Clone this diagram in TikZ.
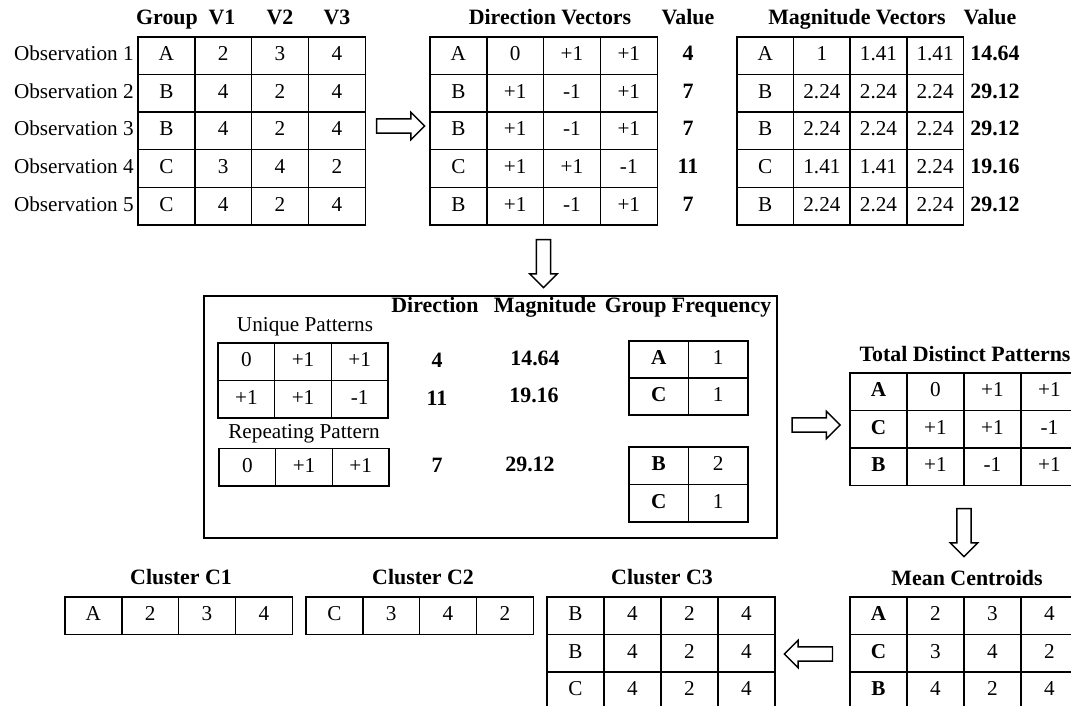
\documentclass[tikz,border=0pt]{standalone}
\usepackage{fontspec}
\setmainfont{Liberation Serif}
\usetikzlibrary{shapes.arrows, positioning}

\tikzset{
  every node/.style={text height=7.3pt, text depth=2.3pt},
  cell/.style={draw, line width=0.7pt, minimum width=28.4pt, minimum height=18.8pt, inner sep=0pt},
  hdr/.style={font=\fontsize{10.95}{13}\selectfont\bfseries, inner sep=0pt},
  txt/.style={inner sep=0pt},
  bigarrow/.style={single arrow, draw, line width=0.7pt, minimum height=24pt,
    text height=0pt, text depth=0pt, inner sep=3.2pt,
    single arrow head extend=3.3pt, single arrow tip angle=90},
}

\begin{document}
\begin{tikzpicture}[x=0.5pt, y=-0.5pt, font=\fontsize{10.6}{12}\selectfont]
    \useasboundingbox (0,0) rectangle (1071,706);

    % input data
    \node[hdr] (h-group) at (167,20) {Group};
    \node[hdr] (h-v1) at (222,20) {V1};
    \node[hdr] (h-v2) at (280,20) {V2};
    \node[hdr] (h-v3) at (337,20) {V3};
    \foreach \r in {1,...,5}
        \node[txt, anchor=east] (obs-\r) at (134,{37+37.6*(\r-0.5)}) {Observation \r};
    \foreach \row [count=\r] in {{A,2,3,4},{B,4,2,4},{B,4,2,4},{C,3,4,2},{C,4,2,4}}
        \foreach \v [count=\c] in \row
            \node[cell] (in-\r-\c) at ({138+56.8*(\c-0.5)},{37+37.6*(\r-0.5)}) {\v};

    % direction vectors
    \node[hdr] (h-dir) at (550,20) {Direction Vectors};
    \node[hdr] (h-dval) at (688,20) {Value};
    \foreach \row [count=\r] in {{A,0,+1,+1},{B,+1,-1,+1},{B,+1,-1,+1},{C,+1,+1,-1},{B,+1,-1,+1}}
        \foreach \v [count=\c] in \row
            \node[cell] (dir-\r-\c) at ({430+56.8*(\c-0.5)},{37+37.6*(\r-0.5)}) {\v};
    \foreach \v [count=\r] in {4,7,7,11,7}
        \node[hdr] (dval-\r) at (688,{37+37.6*(\r-0.5)}) {\v};

    % magnitude vectors
    \node[hdr] (h-mag) at (857,20) {Magnitude Vectors};
    \node[hdr] (h-mval) at (990,20) {Value};
    \foreach \row [count=\r] in {{A,1,1.41,1.41},{B,2.24,2.24,2.24},{B,2.24,2.24,2.24},{C,1.41,1.41,2.24},{B,2.24,2.24,2.24}}
        \foreach \v [count=\c] in \row
            \node[cell] (mag-\r-\c) at ({737+56.6*(\c-0.5)},{37+37.6*(\r-0.5)}) {\v};
    \foreach \v [count=\r] in {14.64,29.12,29.12,19.16,29.12}
        \node[hdr] (mval-\r) at (995,{37+37.6*(\r-0.5)}) {\v};

    % pattern panel
    \node[draw, line width=0.7pt, minimum width=286.5pt, minimum height=121pt, inner sep=0pt] (panel) at (490.5,417) {};
    \node[hdr] (h-pdir) at (435,307) {Direction};
    \node[hdr] (h-pmag) at (545,307) {Magnitude};
    \node[hdr] (h-pfreq) at (688,307) {Group Frequency};
    \node[txt] (uniq) at (305,326) {Unique Patterns};
    \node[txt] (rep) at (304,433) {Repeating Pattern};
    \foreach \row [count=\r] in {{0,+1,+1},{+1,+1,-1}}
        \foreach \v [count=\c] in \row
            \node[cell] (uq-\r-\c) at ({218+56.7*(\c-0.5)},{343+37.5*(\r-0.5)}) {\v};
    \foreach \v [count=\c] in {0,+1,+1}
        \node[cell] (rp-\c) at ({219+56.7*(\c-0.5)},467) {\v};
    \node[hdr] (pdir-1) at (437,362) {4};
    \node[hdr] (pdir-2) at (437,400) {11};
    \node[hdr] (pdir-3) at (437,467) {7};
    \node[hdr] (pmag-1) at (535,360) {14.64};
    \node[hdr] (pmag-2) at (534,397) {19.16};
    \node[hdr] (pmag-3) at (530,466) {29.12};
    \foreach \row [count=\r] in {{\textbf{A},1},{\textbf{C},1}}
        \foreach \v [count=\c] in \row
            \node[cell, minimum width=29.8pt, minimum height=18.5pt] (fq-\r-\c) at ({629+59.5*(\c-0.5)},{341+37*(\r-0.5)}) {\v};
    \foreach \row [count=\r] in {{\textbf{B},2},{\textbf{C},1}}
        \foreach \v [count=\c] in \row
            \node[cell, minimum width=29.8pt, minimum height=18.7pt] (fr-\r-\c) at ({629+59.5*(\c-0.5)},{447+37.5*(\r-0.5)}) {\v};

    % distinct patterns
    \node[hdr] (h-dist) at (965,356) {Total Distinct Patterns};
    \foreach \row [count=\r] in {{\textbf{A},0,+1,+1},{\textbf{C},+1,+1,-1},{\textbf{B},+1,-1,+1}}
        \foreach \v [count=\c] in \row
            \node[cell] (ds-\r-\c) at ({850+57*(\c-0.5)},{373+37.5*(\r-0.5)}) {\v};

    % centroids
    \node[hdr] (h-cent) at (967,580) {Mean Centroids};
    \foreach \row [count=\r] in {{\textbf{A},2,3,4},{\textbf{C},3,4,2},{\textbf{B},4,2,4}}
        \foreach \v [count=\c] in \row
            \node[cell] (mc-\r-\c) at ({850+57*(\c-0.5)},{597+37.5*(\r-0.5)}) {\v};

    % clusters
    \node[hdr] (h-c1) at (181,579) {Cluster C1};
    \node[hdr] (h-c2) at (423,579) {Cluster C2};
    \node[hdr] (h-c3) at (662,579) {Cluster C3};
    \foreach \v [count=\c] in {A,2,3,4}
        \node[cell] (ca-\c) at ({65+56.8*(\c-0.5)},615.8) {\v};
    \foreach \v [count=\c] in {C,3,4,2}
        \node[cell] (cb-\c) at ({306+56.8*(\c-0.5)},615.8) {\v};
    \foreach \row [count=\r] in {{B,4,2,4},{B,4,2,4},{C,4,2,4}}
        \foreach \v [count=\c] in \row
            \node[cell] (cc-\r-\c) at ({547+57*(\c-0.5)},{597+37.5*(\r-0.5)}) {\v};

    % block arrows
    \node[bigarrow] (arr-a) at (397,126) {};
    \node[bigarrow, rotate=-90] (arr-b) at (543.5,260) {};
    \node[bigarrow] (arr-c) at (812.5,425) {};
    \node[bigarrow, rotate=-90] (arr-d) at (964,529) {};
    \node[bigarrow, rotate=180] (arr-e) at (812,654) {};
\end{tikzpicture}
\end{document}
